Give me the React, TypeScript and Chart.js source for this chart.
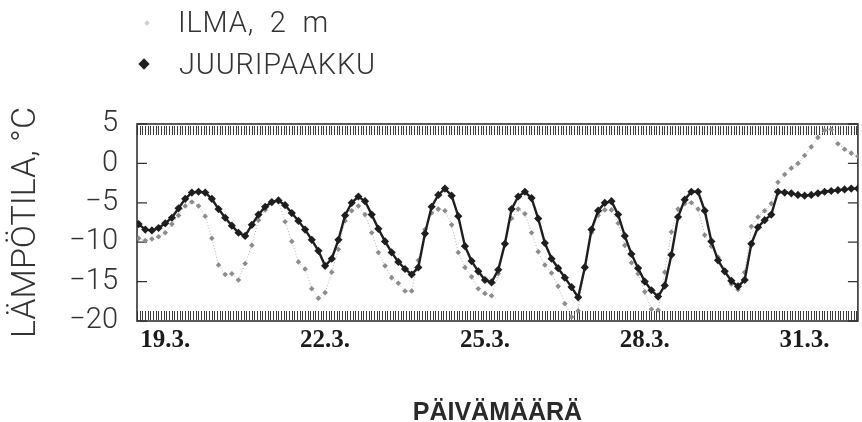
import React, { useEffect, useRef } from "react";
import { Chart, registerables } from "chart.js";

Chart.register(...registerables);

// x values are in "label days": 19 = 19.3., 31 = 31.3., 32 = 1.4.
const START_DAY = 18.5;
const STEP_DAY = 0.125;
const X_MIN = 18.47;
const X_MAX = 32.0;
const TICK_DAYS = [19, 22, 25, 28, 31];
const TICK_LABELS = ["19.3.", "22.3.", "25.3.", "28.3.", "31.3."];
const Y_TICKS = [5, 0, -5, -10, -15, -20];
const HATCH_STEP = 0.05;

const ILMA = [
  -9.5, -9.8, -9.6, -9.3, -8.8, -7.7, -6.6, -5.4, -4.9, -5.4,
  -6.7, -9.5, -12.9, -14.1, -14.0, -14.8, -12.7, -10.4, -7.2, -5.9,
  -5.1, -4.8, -7.4, -9.9, -12.5, -13.4, -15.9, -17.1, -16.4, -13.8,
  -10.9, -7.3, -6.0, -5.4, -6.5, -8.8, -11.3, -13.0, -14.5, -15.2,
  -16.2, -16.2, -12.3, -8.4, -6.3, -5.8, -6.0, -7.8, -11.3, -13.2,
  -14.4, -15.9, -16.5, -16.8, -14.0, -10.3, -7.0, -5.8, -6.4, -8.8,
  -11.2, -12.9, -13.9, -15.6, -17.8, -19.5, -18.7, -13.0, -8.8, -6.6,
  -5.9, -5.9, -7.6, -10.4, -12.6, -14.0, -16.3, -18.5, -18.6, -13.8,
  -8.7, -5.8, -5.1, -5.0, -5.8, -9.1, -10.5, -11.9, -13.7, -15.3,
  -16.0, -13.8, -8.0, -6.8, -6.0, -5.1, -2.4, -1.4, -0.6, 0.0,
  1.0, 2.1, 3.3, 4.2, 4.3, 2.5, 1.8, 1.3, 0.9,
];

const JUURIPAAKKU = [
  -7.7, -8.4, -8.5, -8.2, -7.6, -6.9, -5.7, -4.5, -3.7, -3.6,
  -3.7, -4.5, -5.8, -6.9, -7.9, -8.8, -9.2, -7.8, -6.5, -5.5,
  -4.9, -4.7, -5.3, -6.3, -7.3, -8.4, -9.7, -11.1, -13.0, -12.1,
  -9.7, -6.6, -5.0, -4.2, -4.8, -6.5, -8.3, -9.9, -11.3, -12.5,
  -13.4, -14.1, -13.2, -8.9, -5.5, -4.0, -3.2, -4.1, -6.7, -10.5,
  -12.4, -13.7, -14.8, -15.1, -13.5, -10.2, -5.8, -4.2, -3.6, -4.4,
  -7.0, -10.1, -12.1, -13.3, -14.5, -15.7, -17.0, -13.2, -8.4, -6.0,
  -5.0, -4.8, -6.5, -9.2, -11.5, -13.3, -15.0, -16.1, -16.9, -15.5,
  -11.6, -6.8, -4.6, -3.6, -3.6, -6.0, -9.9, -12.3, -13.7, -14.9,
  -15.6, -14.8, -10.2, -8.1, -7.2, -6.5, -3.6, -3.7, -3.8, -4.0,
  -4.1, -4.0, -3.8, -3.6, -3.5, -3.4, -3.3, -3.2, -3.2,
];

const TIMES = ILMA.map((_, i) => START_DAY + i * STEP_DAY);

const LIGHT_FONT = "Roboto, 'Liberation Sans', sans-serif";

const framePlugin = {
  id: "frameHatch",
  beforeDatasetsDraw(chart: any) {
    const { ctx, chartArea, scales } = chart;
    const xs = scales.x;
    const ys = scales.y;
    const { left, right, top, bottom } = chartArea;
    ctx.save();
    ctx.strokeStyle = "#3c3c3c";
    ctx.lineWidth = 1;
    ctx.beginPath();
    for (let t = X_MIN; t <= X_MAX + 1e-9; t += HATCH_STEP) {
      const px = Math.round(xs.getPixelForValue(t)) + 0.5;
      if (px < left || px > right) continue;
      ctx.moveTo(px, top + 2);
      ctx.lineTo(px, top + 11);
      ctx.moveTo(px, bottom - 10);
      ctx.lineTo(px, bottom - 1);
    }
    ctx.stroke();
    ctx.strokeStyle = "#333";
    ctx.lineWidth = 1.3;
    ctx.beginPath();
    for (const v of Y_TICKS) {
      const py = ys.getPixelForValue(v);
      ctx.moveTo(left, py);
      ctx.lineTo(left + 10, py);
      ctx.moveTo(right, py);
      ctx.lineTo(right - 10, py);
    }
    ctx.stroke();
    ctx.strokeStyle = "#333";
    ctx.lineWidth = 1.6;
    ctx.strokeRect(left, top, right - left, bottom - top);
    ctx.restore();
  },
};

export default function App() {
  const ref = useRef<HTMLCanvasElement | null>(null);

  useEffect(() => {
    document.body.style.margin = "0";
    const canvas = ref.current;
    if (!canvas) return;
    const chart = new Chart(canvas, {
      type: "line",
      data: {
        datasets: [
          {
            label: "ILMA, 2 m",
            data: ILMA.map((v, i) => ({ x: TIMES[i], y: v })),
            borderColor: "#b4b4b4",
            borderWidth: 1,
            borderDash: [1, 2],
            pointStyle: "rectRot",
            pointRadius: 2.8,
            pointBackgroundColor: "#8c8c8c",
            pointBorderColor: "#8c8c8c",
            pointBorderWidth: 0,
            order: 2,
          },
          {
            label: "JUURIPAAKKU",
            data: JUURIPAAKKU.map((v, i) => ({ x: TIMES[i], y: v })),
            borderColor: "#1e1e1e",
            borderWidth: 2.4,
            pointStyle: "rectRot",
            pointRadius: 4.1,
            pointBackgroundColor: "#1e1e1e",
            pointBorderColor: "#1e1e1e",
            pointBorderWidth: 0,
            order: 1,
          },
        ],
      },
      options: {
        animation: false,
        responsive: false,
        maintainAspectRatio: false,
        layout: { padding: { top: 124, right: -1, left: 0, bottom: 0 } },
        plugins: {
          legend: { display: false },
          tooltip: { enabled: false },
        },
        scales: {
          x: {
            type: "linear",
            min: X_MIN,
            max: X_MAX,
            grid: { display: false, drawTicks: false },
            border: { display: false },
            afterBuildTicks: (scale: any) => {
              scale.ticks = TICK_DAYS.map((v) => ({ value: v }));
            },
            afterFit: (scale: any) => {
              scale.height = 101;
            },
            ticks: {
              autoSkip: false,
              maxRotation: 0,
              padding: 7,
              color: "#1a1a1a",
              font: { family: "'Liberation Serif', serif", size: 25, weight: "bold", lineHeight: 1 },
              callback: (v: any) => {
                const k = TICK_DAYS.indexOf(Number(v));
                return k >= 0 ? TICK_LABELS[k] : "";
              },
            },
            title: {
              display: true,
              text: "PÄIVÄMÄÄRÄ",
              color: "#2a2a2a",
              font: { family: "'Liberation Sans', sans-serif", size: 25, weight: "bold", lineHeight: 0.7 },
              padding: { top: 0, bottom: 0 },
            },
          },
          y: {
            min: -20,
            max: 5,
            grid: { display: false, drawTicks: false },
            border: { display: false },
            afterBuildTicks: (scale: any) => {
              scale.ticks = Y_TICKS.map((v) => ({ value: v }));
            },
            afterFit: (scale: any) => {
              scale.width = 137;
            },
            ticks: {
              padding: 19,
              color: "#333",
              font: { family: LIGHT_FONT, size: 29, weight: "300", lineHeight: 1 },
              callback: (v: any) => {
                const n = Number(v);
                return n < 0 ? "\u2212" + Math.abs(n) : String(n);
              },
            },
            title: {
              display: true,
              text: "LÄMPÖTILA, °C",
              color: "#333",
              font: { family: LIGHT_FONT, size: 34, weight: "300", lineHeight: 1 },
              padding: { top: 9, bottom: 0 },
            },
          },
        },
      },
      plugins: [framePlugin],
    });
    return () => chart.destroy();
  }, []);

  const legendText: React.CSSProperties = {
    position: "absolute",
    fontFamily: LIGHT_FONT,
    fontWeight: 300,
    fontSize: 29,
    lineHeight: "29px",
    color: "#333",
    whiteSpace: "pre",
    letterSpacing: "0.8px",
  };

  return (
    <div style={{ position: "relative", width: 862, height: 422, background: "#fff", overflow: "hidden" }}>
      <canvas ref={ref} width={862} height={422} style={{ position: "absolute", left: 0, top: 0, width: 862, height: 422 }} />
      <div style={{ position: "absolute", left: 145, top: 21, width: 4, height: 4, background: "#d0d0d0", transform: "rotate(45deg)" }} />
      <div style={{ ...legendText, left: 178, top: 8 }}>{"ILMA,  2  m"}</div>
      <div style={{ position: "absolute", left: 140, top: 60, width: 8, height: 8, background: "#1e1e1e", transform: "rotate(45deg)" }} />
      <div style={{ ...legendText, left: 179, top: 50 }}>{"JUURIPAAKKU"}</div>
    </div>
  );
}
